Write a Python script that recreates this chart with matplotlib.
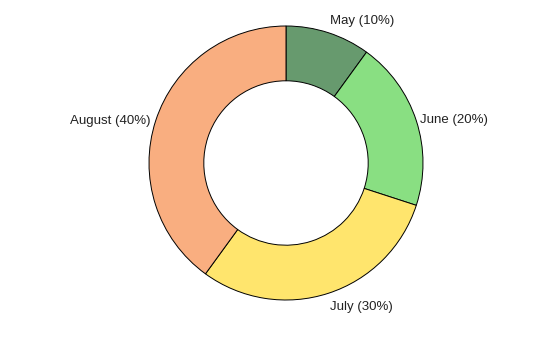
import matplotlib.pyplot as plt

months = ['May', 'June', 'July', 'August']
shares = [10, 20, 30, 40]
colors = ['#679a6e', '#89df82', '#ffe56d', '#f9ae80']

# label anchors (data units, radius 1 = outer ring) and alignment
label_xy = [(0.32, 1.036), (0.975, 0.314), (0.32, -1.05), (-0.99, 0.307)]
label_ha = ['left', 'left', 'left', 'right']

plt.rcParams['font.family'] = ['Liberation Sans', 'DejaVu Sans']

fig = plt.figure(figsize=(5.6, 3.37), dpi=100)
ax = fig.add_axes([0, 0, 1, 1])
ax.pie(shares, colors=colors, startangle=90, counterclock=False, radius=1,
       wedgeprops={'width': 0.4, 'edgecolor': 'black', 'linewidth': 0.7})

for name, share, (x, y), ha in zip(months, shares, label_xy, label_ha):
    ax.text(x, y, f"{name} ({share}%)", ha=ha, va='center', fontsize=9.5,
            color='#222222')

ax.set_xlim(-286 / 137, (560 - 286) / 137)
ax.set_ylim(-(337 - 163) / 137, 163 / 137)
ax.set_aspect('auto')
ax.axis('off')

fig.savefig('out.png', dpi=100)
